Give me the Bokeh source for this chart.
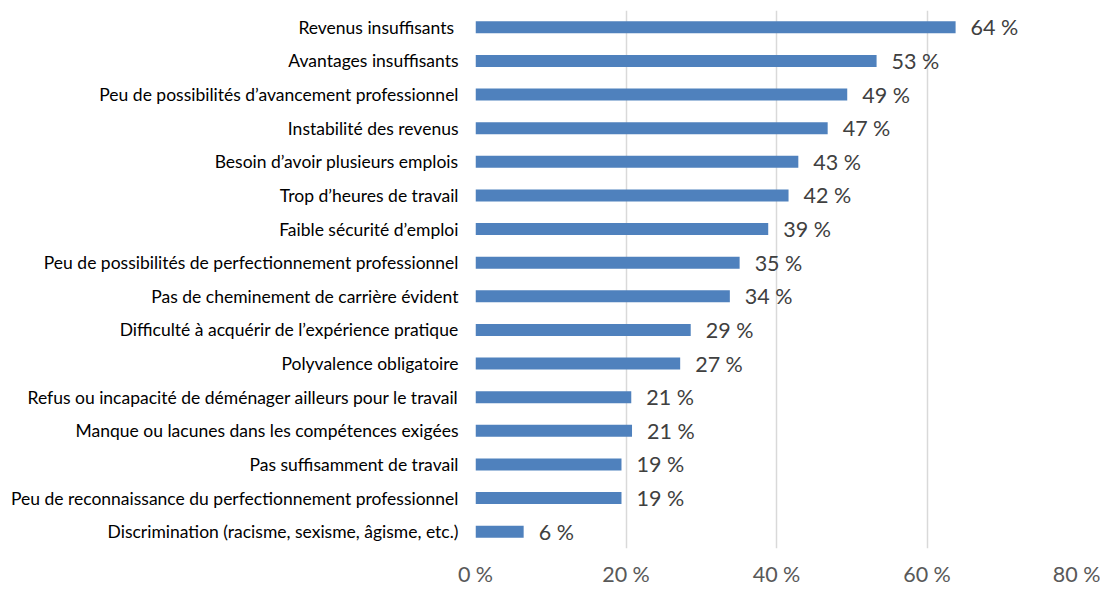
from bokeh.plotting import figure
from bokeh.models import ColumnDataSource, FixedTicker, Range1d
from bokeh.core.properties import value
from bokeh.embed import file_html
from bokeh.resources import INLINE

categories = [
    "Revenus insuffisants ",
    "Avantages insuffisants",
    "Peu de possibilités d’avancement professionnel",
    "Instabilité des revenus",
    "Besoin d’avoir plusieurs emplois",
    "Trop d’heures de travail",
    "Faible sécurité d’emploi",
    "Peu de possibilités de perfectionnement professionnel",
    "Pas de cheminement de carrière évident",
    "Difficulté à acquérir de l’expérience pratique",
    "Polyvalence obligatoire",
    "Refus ou incapacité de déménager ailleurs pour le travail",
    "Manque ou lacunes dans les compétences exigées",
    "Pas suffisamment de travail",
    "Peu de reconnaissance du perfectionnement professionnel",
    "Discrimination (racisme, sexisme, âgisme, etc.)",
]
values = [63.8, 53.3, 49.4, 46.8, 42.9, 41.6, 38.9, 35.1, 33.8, 28.6, 27.2, 20.7, 20.8, 19.4, 19.4, 6.4]
labels = ["64 %", "53 %", "49 %", "47 %", "43 %", "42 %", "39 %", "35 %", "34 %",
          "29 %", "27 %", "21 %", "21 %", "19 %", "19 %", "6 %"]
x_ticks = [0, 20, 40, 60, 80]
x_tick_labels = ["0 %", "20 %", "40 %", "60 %", "80 %"]

src = ColumnDataSource(dict(cat=categories, val=values, lab=labels))

FONT = "Lato"
p = figure(width=1100, height=589, y_range=list(reversed(categories)),
           x_range=Range1d(0, 80), output_backend="svg", toolbar_location=None,
           min_border_left=475, min_border_right=23, min_border_top=10, min_border_bottom=41)
p.outline_line_color = None
p.hbar(y="cat", right="val", left=0, height=0.36, source=src,
       fill_color="#4f81bd", line_color=None)
p.text(x="val", y="cat", text="lab", source=src, x_offset=15,
       text_baseline="middle", text_align="left", text_font=value(FONT),
       text_font_size="21.5px", text_color="#404040")

p.xaxis.ticker = FixedTicker(ticks=x_ticks)
p.xaxis.major_label_overrides = {t: l for t, l in zip(x_ticks, x_tick_labels)}
p.xaxis.axis_line_color = None
p.xaxis.major_tick_line_color = None
p.xaxis.minor_tick_line_color = None
p.xaxis.major_tick_out = 0
p.xaxis.major_tick_in = 0
p.xaxis.major_label_text_font = FONT
p.xaxis.major_label_text_font_size = "21.5px"
p.xaxis.major_label_text_color = "#595959"
p.xaxis.major_label_standoff = 12

p.yaxis.axis_line_color = None
p.yaxis.major_tick_line_color = None
p.yaxis.minor_tick_line_color = None
p.yaxis.major_tick_out = 0
p.yaxis.major_tick_in = 0
p.yaxis.major_label_text_font = FONT
p.yaxis.major_label_text_font_size = "17.5px"
p.yaxis.major_label_text_color = "#000000"
p.yaxis.major_label_standoff = 17

p.xgrid.grid_line_color = "#d9d9d9"
p.xgrid.grid_line_width = 1.5
p.ygrid.grid_line_color = None
p.xgrid.level = "underlay"

open("out.html", "w").write(file_html(p, INLINE))
